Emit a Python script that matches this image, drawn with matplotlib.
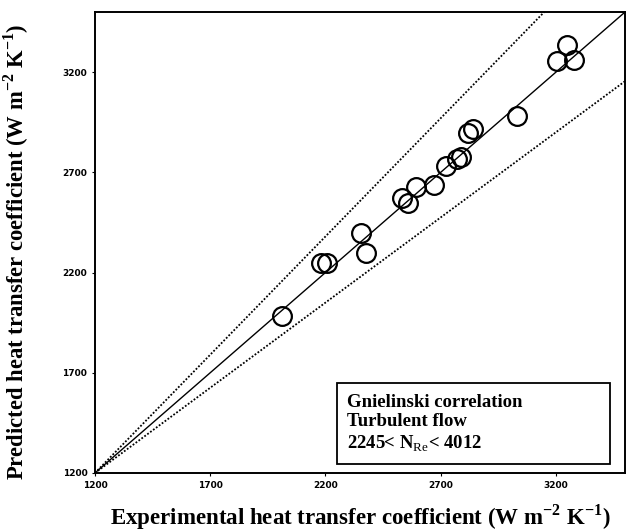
import matplotlib
matplotlib.use('Agg')
import matplotlib.pyplot as plt
import numpy as np

plt.rcParams['mathtext.fontset'] = 'custom'
plt.rcParams['mathtext.rm'] = 'Liberation Serif'
plt.rcParams['mathtext.bf'] = 'Liberation Serif:bold'

# experimental vs predicted heat transfer coefficient (W m-2 K-1)
h_exp = [2014, 2183, 2209, 2356, 2377, 2533, 2559, 2594, 2672, 2724,
         2771, 2789, 2819, 2841, 3031, 3204, 3248, 3278]
h_pred = [1982, 2246, 2246, 2400, 2296, 2574, 2550, 2629, 2639, 2734,
          2769, 2779, 2898, 2918, 2983, 3257, 3336, 3262]

lims = [1200, 3500]
ticks = [1200, 1700, 2200, 2700, 3200]
upper_slope = 1.18
lower_slope = 0.85

fig = plt.figure(figsize=(6.27, 5.32), dpi=100)
ax = fig.add_axes([0.1515, 0.111, 0.845, 0.866])

x_line = np.array(lims)
ax.plot(x_line, x_line, c='k', lw=1.0)
ax.plot(x_line, lims[0] + upper_slope * (x_line - lims[0]), c='k', lw=1.3, ls=(0, (1, 1)))
ax.plot(x_line, lims[0] + lower_slope * (x_line - lims[0]), c='k', lw=1.3, ls=(0, (1, 1)))

ax.plot(h_exp, h_pred, ls='none', marker='o', ms=13.5, mfc='none', mec='k', mew=1.6)

ax.set_xlim(lims)
ax.set_ylim(lims)
ax.set_xticks(ticks)
ax.set_yticks(ticks)
ax.tick_params(direction='out', length=2.5, width=0.8, labelsize=6.5, pad=3)
for lab in ax.get_xticklabels() + ax.get_yticklabels():
    lab.set_fontweight('bold')
for sp in ax.spines.values():
    sp.set_linewidth(1.4)

ax.set_xlabel(r'Experimental heat transfer coefficient (W m$^{\mathbf{-2}}$ K$^{\mathbf{-1}}$)',
              family='Liberation Serif', fontweight='bold', fontsize=16.5, labelpad=9)
ax.set_ylabel(r'Predicted heat transfer coefficient (W m$^{\mathbf{-2}}$ K$^{\mathbf{-1}}$)',
              family='Liberation Serif', fontweight='bold', fontsize=16.3)
ax.yaxis.set_label_coords(-0.12, 0.48)

ax.text(0.475, 0.172,
        'Gnielinski correlation\nTurbulent flow\n2245< N$_{\\mathrm{Re}}$< 4012',
        transform=ax.transAxes, family='Liberation Serif', fontsize=13.5,
        fontweight='bold', va='top', ha='left', linespacing=1.2)
ax.add_patch(plt.Rectangle((0.457, 0.02), 0.515, 0.175, transform=ax.transAxes,
                           fill=False, ec='k', lw=1.3))

fig.savefig('out.png', dpi=100)
